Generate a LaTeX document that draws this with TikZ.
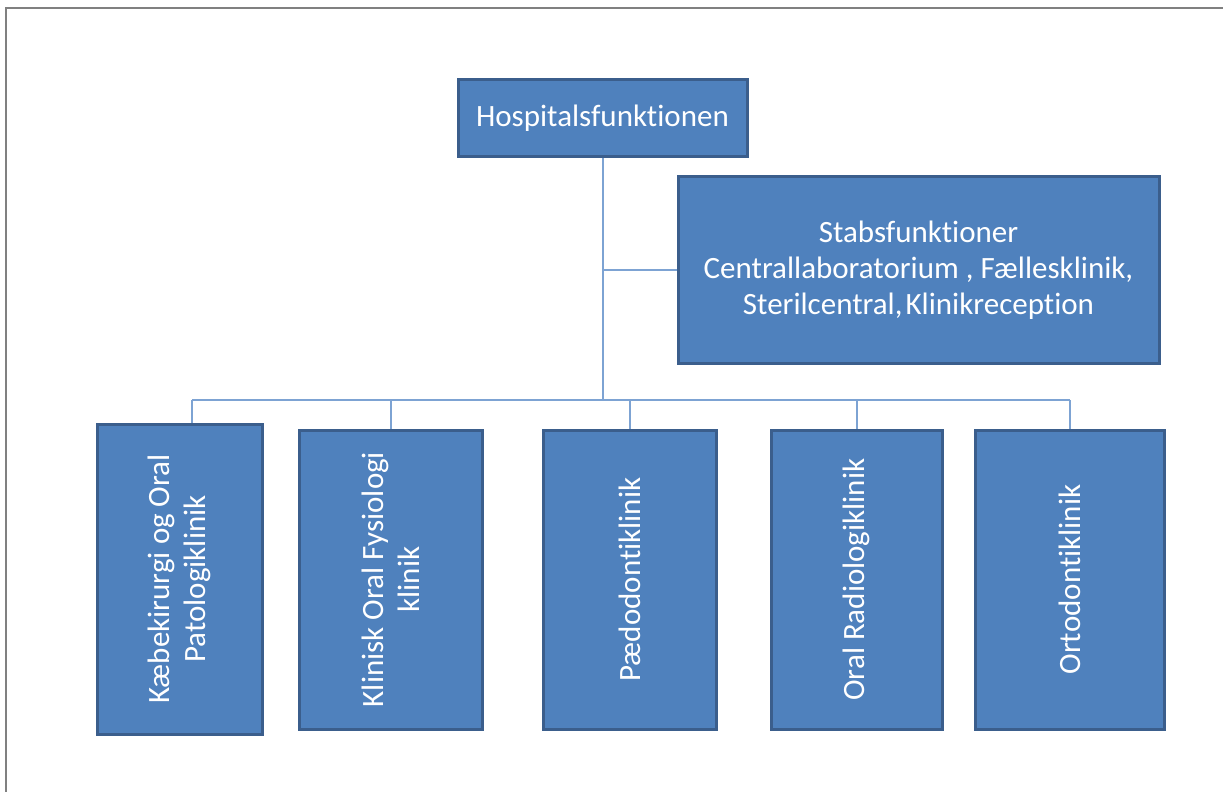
\documentclass[tikz,border=0pt]{standalone}
\usepackage{fontspec}
\setmainfont{Carlito}[Ligatures=NoCommon]
\definecolor{boxfill}{HTML}{4F81BD}
\definecolor{boxline}{HTML}{3B5E8C}
\definecolor{linkline}{HTML}{7DA3D3}
\definecolor{framegray}{HTML}{808080}
\tikzset{
  unit/.style={rectangle, draw=boxline, fill=boxfill, line width=1.5pt, text=white, align=center, font=\fontsize{15.5}{18}\selectfont},
  link/.style={draw=linkline, line width=1pt}
}
\begin{document}
\begin{tikzpicture}[x=0.5pt, y=-0.5pt]
\useasboundingbox (0,0) rectangle (1223,792);
% frame
\draw[framegray, line width=1pt] (6,792) -- (6,8) -- (1223,8);
% top and staff
\node[unit, minimum width=144.5pt, minimum height=38.5pt] (hosp) at (602.5,118.5) {Hospitalsfunktionen};
\node[unit, minimum width=240.5pt, minimum height=93.5pt] (stab) at (918.5,270.5) {Stabsfunktioner\\Centrallaboratorium , Fællesklinik,\\Sterilcentral,\hspace{0.1em}Klinikreception};
% clinics
\node[unit, rotate=90, minimum width=155pt, minimum height=82.5pt] (kir) at (179.5,579) {Kæbekirurgi og Oral\\Patologiklinik};
\node[unit, rotate=90, minimum width=149.5pt, minimum height=91.5pt] (fys) at (390.5,579.5) {Klinisk Oral Fysiologi\\klinik};
\node[unit, rotate=90, minimum width=149.5pt, minimum height=86.5pt] (paedo) at (629.5,579.5) {Pædodontiklinik};
\node[unit, rotate=90, minimum width=149.5pt, minimum height=85.5pt] (radio) at (856.5,579.5) {Oral Radiologiklinik};
\node[unit, rotate=90, minimum width=149.5pt, minimum height=94.5pt] (orto) at (1069.5,579.5) {Ortodontiklinik};
\coordinate (busL) at (192,400);
\coordinate (busR) at (1070,400);
% connectors
\draw[link] (hosp.south) -- (hosp.south |- busL);
\draw[link] (stab.west) -- (stab.west -| hosp.south);
\draw[link] (busL) -- (busR);
\draw[link] (busL) -- (busL |- kir.east);
\draw[link] (fys.east) -- (fys.east |- busL);
\draw[link] (paedo.east) -- (paedo.east |- busL);
\draw[link] (radio.east) -- (radio.east |- busL);
\draw[link] (orto.east) -- (orto.east |- busL);
\end{tikzpicture}
\end{document}
